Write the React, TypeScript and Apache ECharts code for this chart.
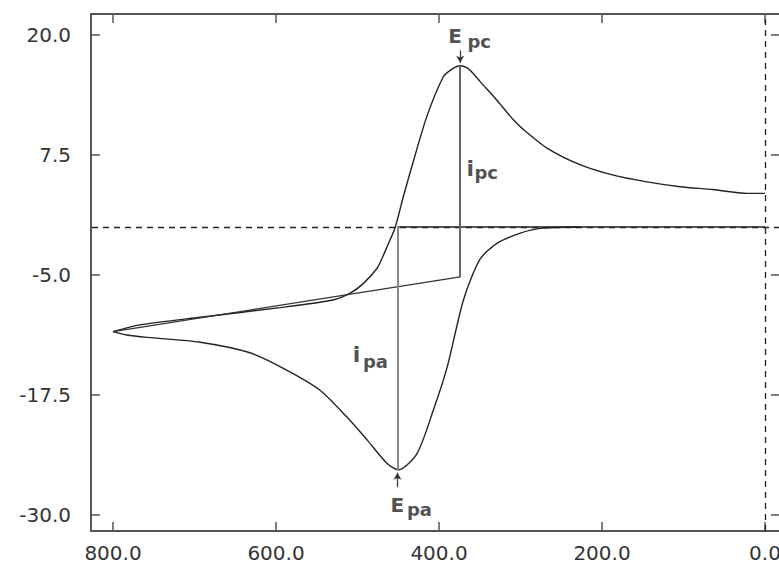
import React, { useEffect, useRef } from "react";
import * as echarts from "echarts";

// Tick values
const xTicks = [800, 600, 400, 200, 0];
const yTicks = [20, 7.5, -5, -17.5, -30];

// Upper branch (potential in mV, current)
const upperE = [800, 767, 693, 595, 530, 509, 493, 476, 469, 464, 454, 444, 432, 415, 395, 385, 374, 366, 358, 350, 333, 325, 309, 297, 267, 227, 186, 145, 104, 64, 22, 0];
const upperI = [-10.9, -10.2, -9.4, -8.4, -7.6, -6.9, -5.9, -4.3, -3.1, -2.1, -0.1, 3.1, 6.7, 11.5, 15.6, 16.4, 16.8, 16.6, 16.0, 15.2, 13.6, 12.8, 11.2, 10.2, 8.2, 6.5, 5.4, 4.7, 4.2, 3.9, 3.5, 3.5];

// Lower branch
const lowerE = [800, 783, 758, 693, 632, 587, 546, 513, 488, 464, 450, 427, 407, 390, 370, 350, 329, 301, 276, 227];
const lowerI = [-10.9, -11.25, -11.5, -12.0, -13.1, -14.9, -17.0, -19.8, -22.2, -24.6, -25.3, -23.6, -19.1, -14.6, -7.6, -3.4, -1.7, -0.66, -0.14, 0];

// Peak / baseline annotations
const cathodicPeak = [374, 16.8];
const cathodicBaselineI = -5.2;
const baselineStart = [800, -10.9];
const anodicPeak = [451, -25.3];
const zeroLevel = 0;

const FONT = "DejaVu Sans";

export default function App() {
  const ref = useRef<HTMLDivElement>(null);

  useEffect(() => {
    if (!ref.current) return;
    const chart = echarts.init(ref.current, null, { renderer: "svg" });

    const frame = { color: "#555", width: 2 };
    const tick = { color: "#555", width: 1.5 };
    const xRange = { min: -18.4, max: 827 };
    const yRange = { min: -31.67, max: 22.19 };

    const ipcMid = (cathodicPeak[1] + cathodicBaselineI) / 2;
    const ipaMid = (anodicPeak[1] + zeroLevel) / 2;

    const txt = (value: number[], text: string, size: number, offset: number[]) => ({
      value,
      label: {
        show: true,
        formatter: text,
        position: "inside",
        offset,
        fontFamily: FONT,
        fontWeight: "bold",
        fontSize: size,
        color: "#222",
      },
    });

    const option: any = {
      animation: false,
      backgroundColor: "#fff",
      grid: { left: 91, top: 14, right: -1, bottom: 39, outerBoundsMode: "none" },
      xAxis: [
        {
          type: "value",
          position: "bottom",
          inverse: true,
          ...xRange,
          axisLine: { show: true, onZero: false, lineStyle: frame },
          axisTick: { show: true, inside: true, length: 9, customValues: xTicks, lineStyle: tick },
          axisLabel: {
            customValues: xTicks,
            formatter: (v: number) => v.toFixed(1),
            fontFamily: FONT,
            fontSize: 20,
            color: "#333",
            margin: 12,
          },
          splitLine: { show: false },
        },
        {
          type: "value",
          position: "top",
          inverse: true,
          ...xRange,
          axisLine: { show: true, onZero: false, lineStyle: frame },
          axisTick: { show: true, inside: true, length: 9, customValues: xTicks, lineStyle: tick },
          axisLabel: { show: false },
          splitLine: { show: false },
        },
      ],
      yAxis: [
        {
          type: "value",
          position: "left",
          ...yRange,
          axisLine: { show: true, onZero: false, lineStyle: frame },
          axisTick: { show: true, inside: true, length: 9, customValues: yTicks, lineStyle: tick },
          axisLabel: {
            customValues: yTicks,
            formatter: (v: number) => v.toFixed(1),
            fontFamily: FONT,
            fontSize: 20,
            color: "#333",
            margin: 20,
          },
          splitLine: { show: false },
        },
        {
          type: "value",
          position: "right",
          ...yRange,
          axisLine: { show: true, onZero: false, lineStyle: frame },
          axisTick: { show: true, inside: true, length: 9, customValues: yTicks, lineStyle: tick },
          axisLabel: { show: false },
          splitLine: { show: false },
        },
      ],
      series: [
        {
          type: "line",
          name: "upper",
          data: upperE.map((e, i) => [e, upperI[i]]),
          showSymbol: false,
          smooth: 0.25,
          lineStyle: { color: "#222", width: 1.4 },
          z: 3,
          markLine: {
            silent: true,
            symbol: "none",
            label: { show: false },
            data: [
              { yAxis: zeroLevel, lineStyle: { type: [6, 5], color: "#222", width: 1.3 } },
              { xAxis: 0, lineStyle: { type: [6, 5], color: "#222", width: 1.3 } },
              [
                { coord: [anodicPeak[0], zeroLevel], lineStyle: { type: "solid", color: "#222", width: 1.5 } },
                { coord: [0, zeroLevel] },
              ],
              [
                { coord: [cathodicPeak[0], cathodicPeak[1]], lineStyle: { type: "solid", color: "#666", width: 2 } },
                { coord: [cathodicPeak[0], cathodicBaselineI] },
              ],
              [
                { coord: baselineStart, lineStyle: { type: "solid", color: "#333", width: 1.4 } },
                { coord: [cathodicPeak[0], cathodicBaselineI] },
              ],
              [
                { coord: [anodicPeak[0], zeroLevel], lineStyle: { type: "solid", color: "#888", width: 2 } },
                { coord: anodicPeak },
              ],
            ],
          },
        },
        {
          type: "line",
          name: "lower",
          data: lowerE.map((e, i) => [e, lowerI[i]]),
          showSymbol: false,
          smooth: 0.25,
          lineStyle: { color: "#222", width: 1.4 },
          z: 3,
          markLine: {
            silent: true,
            symbol: ["none", "arrow"],
            symbolSize: [6, 7],
            label: { show: false },
            lineStyle: { type: "solid", color: "#333", width: 1.2 },
            data: [
              [{ coord: [cathodicPeak[0], cathodicPeak[1] + 1.6] }, { coord: [cathodicPeak[0], cathodicPeak[1] + 0.3] }],
              [{ coord: [anodicPeak[0], anodicPeak[1] - 1.8] }, { coord: [anodicPeak[0], anodicPeak[1] - 0.3] }],
            ],
          },
        },
        {
          type: "scatter",
          name: "labels",
          symbolSize: 0,
          itemStyle: { color: "transparent" },
          silent: true,
          z: 5,
          data: [
            txt(cathodicPeak, "E", 20, [-5, -30]),
            txt(cathodicPeak, "pc", 18, [19, -24]),
            txt([cathodicPeak[0], ipcMid], "i", 22, [10, -3]),
            txt([cathodicPeak[0], ipcMid], "pc", 18, [26, 1]),
            txt([anodicPeak[0], ipaMid], "i", 22, [-41, 6]),
            txt([anodicPeak[0], ipaMid], "pa", 18, [-22, 13]),
            txt(anodicPeak, "E", 20, [0, 35]),
            txt(anodicPeak, "pa", 18, [22, 40]),
          ],
        },
      ],
    };

    chart.setOption(option);
    return () => chart.dispose();
  }, []);

  return (
    <div
      ref={ref}
      style={{ position: "fixed", left: 0, top: 0, width: 779, height: 570, background: "#fff" }}
    />
  );
}
